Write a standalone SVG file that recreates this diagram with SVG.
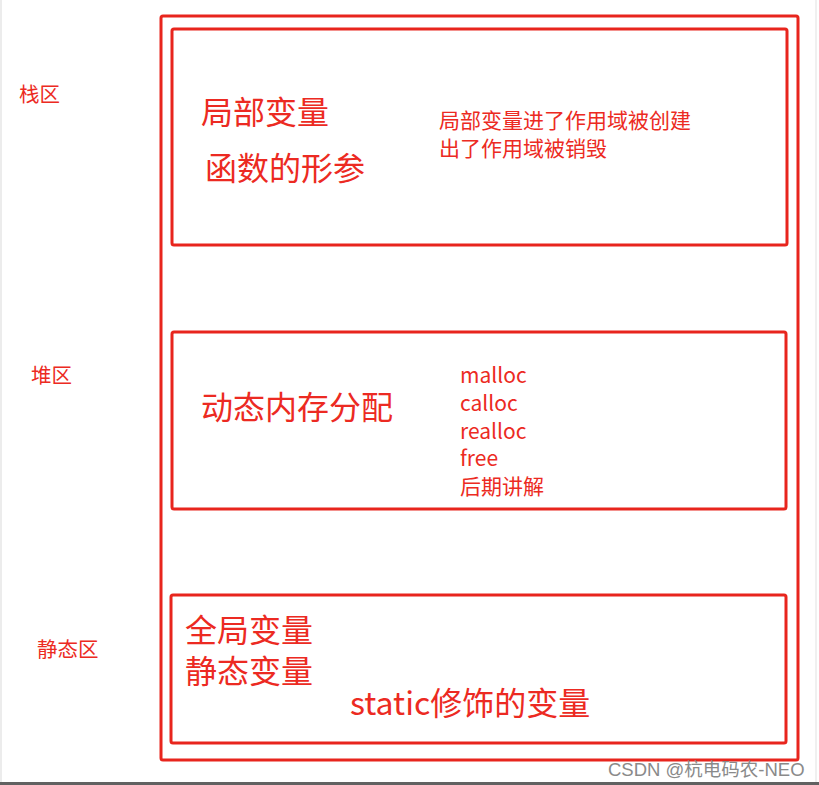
<svg xmlns="http://www.w3.org/2000/svg" width="819" height="785" viewBox="0 0 819 785">
<style>
.box{fill:none;stroke:#e8251d;stroke-width:3;}
.t{fill:#ec2a22;font-family:"Noto Sans CJK SC","Microsoft YaHei",sans-serif;}
.s{font-size:20.5px;}
.c{font-size:21px;}
.m{font-size:21px;}
.l{font-size:32px;}
.wm{fill:#8a8a8a;font-family:"Liberation Sans","Noto Sans CJK SC",sans-serif;font-size:18.5px;}
</style>
<rect x="0" y="0" width="819" height="785" fill="#ffffff"/>
<rect x="0" y="0" width="2" height="782" fill="#ececec"/>
<rect x="815" y="0" width="2" height="782" fill="#f0f0f0"/>
<rect x="0" y="782" width="819" height="3" fill="#616161"/>
<g id="labels">
<text class="t s" x="19" y="102">栈区</text>
<text class="t s" x="31" y="383">堆区</text>
<text class="t s" x="37" y="657">静态区</text>
</g>
<g id="memory">
<rect class="box" x="161" y="16" width="637" height="744" rx="2"/>
</g>
<g id="stack">
<rect class="box" x="172" y="29" width="615" height="216" rx="2"/>
<text class="t l" x="201" y="124">局部变量</text>
<text class="t l" x="205" y="180">函数的形参</text>
<text class="t c" x="439" y="128">局部变量进了作用域被创建</text>
<text class="t c" x="439" y="156">出了作用域被销毁</text>
</g>
<g id="heap">
<rect class="box" x="172" y="332" width="614" height="177" rx="2"/>
<text class="t l" x="201" y="419">动态内存分配</text>
<text class="t m" x="460" y="383">malloc</text>
<text class="t m" x="460" y="411">calloc</text>
<text class="t m" x="460" y="439">realloc</text>
<text class="t m" x="460" y="466">free</text>
<text class="t c" x="460" y="494">后期讲解</text>
</g>
<g id="static">
<rect class="box" x="171" y="595" width="615" height="148" rx="2"/>
<text class="t l" x="185" y="642">全局变量</text>
<text class="t l" x="185" y="683">静态变量</text>
<text class="t l" x="350" y="715">static修饰的变量</text>
</g>
<g id="connectors"></g>
<text class="wm" x="608" y="776">CSDN @杭电码农-NEO</text>
</svg>
